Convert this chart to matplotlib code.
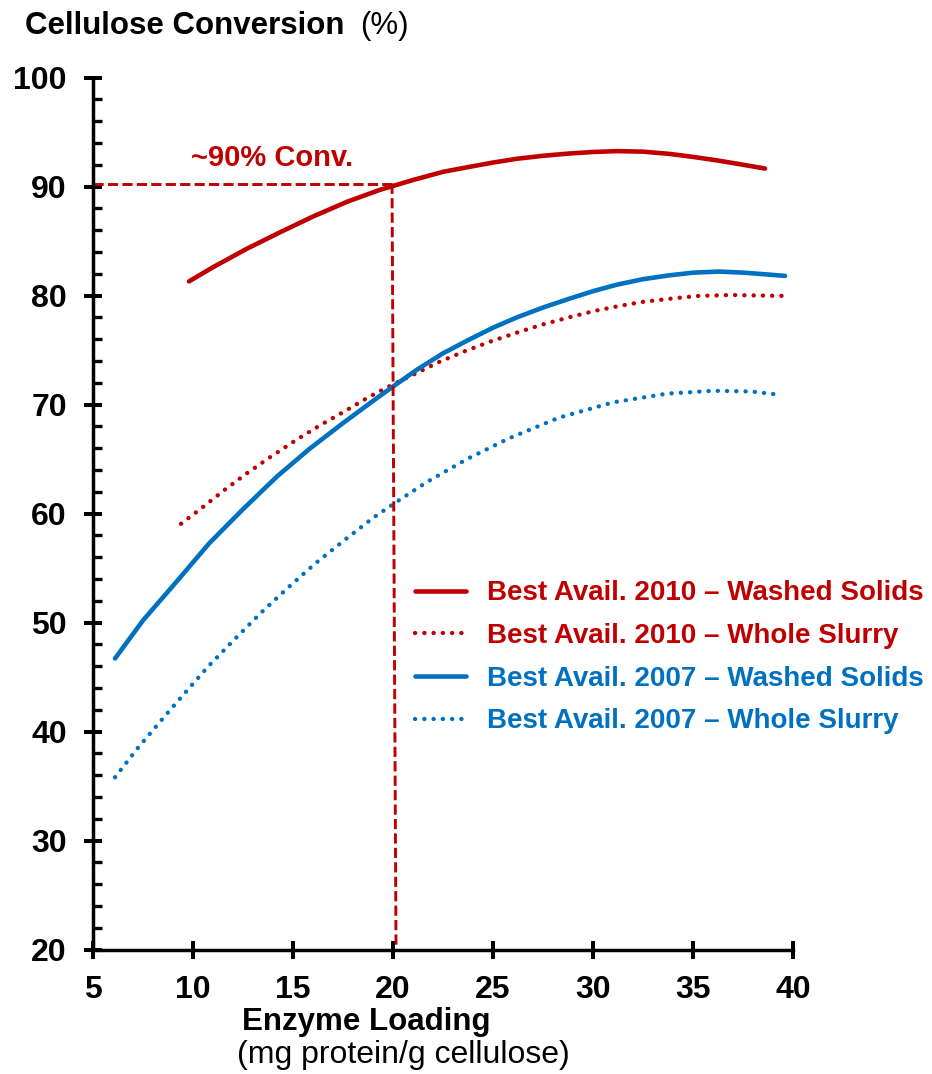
import numpy as np
import matplotlib
matplotlib.use('Agg')
import matplotlib.pyplot as plt
from matplotlib.ticker import MultipleLocator

plt.rcParams['font.family'] = ['Liberation Sans', 'DejaVu Sans']

####DATA####
x_2010_ws = [9.8, 11.0, 12.7, 14.35, 16.0, 17.7, 19.35, 21.0, 22.5, 23.8, 25, 26.2, 27.5,
             28.8, 30, 31.2, 32.5, 33.8, 35, 36.2, 37.5, 38.6]
y_2010_ws = [81.3, 82.6, 84.3, 85.8, 87.25, 88.6, 89.7, 90.6, 91.35, 91.8, 92.2, 92.55, 92.82,
             93.03, 93.17, 93.25, 93.2, 93.0, 92.72, 92.4, 92.0, 91.65]

x_2010_wsl = [9.4, 10.5, 11.6, 12.7, 13.8, 15.2, 16.4, 17.6, 18.8, 20.0, 21.2, 22.3, 23.6, 24.9,
              26.2, 27.4, 28.8, 30.1, 31.2, 32.4, 33.8, 35.2, 36.9, 38.3, 39.7]
y_2010_wsl = [59.06, 60.6, 62.2, 63.7, 65.1, 66.8, 68.15, 69.4, 70.7, 71.85, 72.9, 73.9, 74.9, 75.8,
              76.6, 77.3, 78.0, 78.6, 79.0, 79.4, 79.7, 79.96, 80.05, 80.0, 79.96]

x_2007_ws = [6.1, 7.5, 9.2, 10.8, 12.5, 14.2, 15.8, 17.5, 19.2, 20.0, 21.2, 22.5, 23.8, 25, 26.2,
             27.5, 28.8, 30, 31.2, 32.5, 33.8, 35, 36.3, 37.5, 38.6, 39.6]
y_2007_ws = [46.7, 50.2, 53.8, 57.25, 60.4, 63.4, 65.9, 68.3, 70.6, 71.65, 73.2, 74.7, 75.95, 77.05, 78.0,
             78.9, 79.7, 80.4, 81.0, 81.5, 81.85, 82.1, 82.2, 82.1, 81.95, 81.8]

x_2007_wsl = [6.1, 7.2, 8.4, 9.6, 10.8, 12.1, 13.4, 14.75, 16.1, 17.6, 19.0, 20.2, 21.7, 23.7,
              25.8, 28.3, 31.0, 33.7, 36.0, 37.9, 39.3]
y_2007_wsl = [35.8, 38.4, 41.0, 43.55, 46.05, 48.5, 50.9, 53.2, 55.4, 57.6, 59.6, 61.1, 62.9, 65.0,
              66.9, 68.8, 70.2, 71.0, 71.26, 71.2, 70.9]

labels = ['Best Avail. 2010 \u2013 Washed Solids',
          'Best Avail. 2010 \u2013 Whole Slurry',
          'Best Avail. 2007 \u2013 Washed Solids',
          'Best Avail. 2007 \u2013 Whole Slurry']

# guide lines marking ~90% conversion
ref_conv = 90.26
ref_load_top = 19.95
ref_load_bottom = 20.15
########################

red = '#C00000'
blue = '#0070C0'
dotted = (0, (0.05, 2.1))
dashed = (0, (3.5, 1.45))

fig = plt.figure(figsize=(9.32, 10.74), dpi=100)
ax = fig.add_axes([0.0998, 0.1159, 0.7511, 0.8119])

l1, = ax.plot(x_2010_ws, y_2010_ws, color=red, lw=3.3, solid_capstyle='round', solid_joinstyle='round')
l2, = ax.plot(x_2010_wsl, y_2010_wsl, color=red, lw=3.1, linestyle=dotted, dash_capstyle='round')
l3, = ax.plot(x_2007_ws, y_2007_ws, color=blue, lw=3.3, solid_capstyle='round', solid_joinstyle='round')
l4, = ax.plot(x_2007_wsl, y_2007_wsl, color=blue, lw=3.1, linestyle=dotted, dash_capstyle='round')

ax.plot([5, ref_load_top], [ref_conv, ref_conv], color=red, lw=2.1, linestyle=dashed)
ax.plot([ref_load_top, ref_load_bottom], [ref_conv, 20], color=red, lw=2.1, linestyle=dashed)
ax.text(13.95, 92.6, '~90% Conv.', color=red, fontsize=21, fontweight='bold',
        ha='center', va='center')

ax.set_xlim(5, 40)
ax.set_ylim(20, 100)
ax.xaxis.set_major_locator(MultipleLocator(5))
ax.yaxis.set_major_locator(MultipleLocator(10))
ax.yaxis.set_minor_locator(MultipleLocator(2))
for s in ['top', 'right']:
    ax.spines[s].set_visible(False)
for s in ['left', 'bottom']:
    ax.spines[s].set_linewidth(2.5)
ax.tick_params(axis='x', which='major', direction='inout', length=13, width=2.9,
               labelsize=23, pad=12)
ax.tick_params(axis='y', which='major', direction='inout', length=13.5, width=2.9,
               labelsize=23, pad=12)
ax.tick_params(axis='y', which='minor', direction='in', length=6.5, width=2.4)
for t in ax.get_xticklabels() + ax.get_yticklabels():
    t.set_fontweight('bold')

leg = fig.legend([l1, l2, l3, l4], labels, loc='center left',
                 bbox_to_anchor=(0.445, 0.388), frameon=False,
                 prop={'size': 20, 'weight': 'bold'}, labelcolor=[red, red, blue, blue],
                 handlelength=1.84, handletextpad=0.76, labelspacing=0.6,
                 borderpad=0, borderaxespad=0)

fig.text(0.027, 0.968, 'Cellulose Conversion', fontsize=22.5, fontweight='bold', va='baseline')
fig.text(0.386, 0.968, '(%)', fontsize=22.5, va='baseline')
fig.text(0.393, 0.041, 'Enzyme Loading', fontsize=22.5, fontweight='bold', ha='center', va='baseline')
fig.text(0.433, 0.0102, '(mg protein/g cellulose)', fontsize=23, ha='center', va='baseline')

fig.savefig('out.png', dpi=100)
